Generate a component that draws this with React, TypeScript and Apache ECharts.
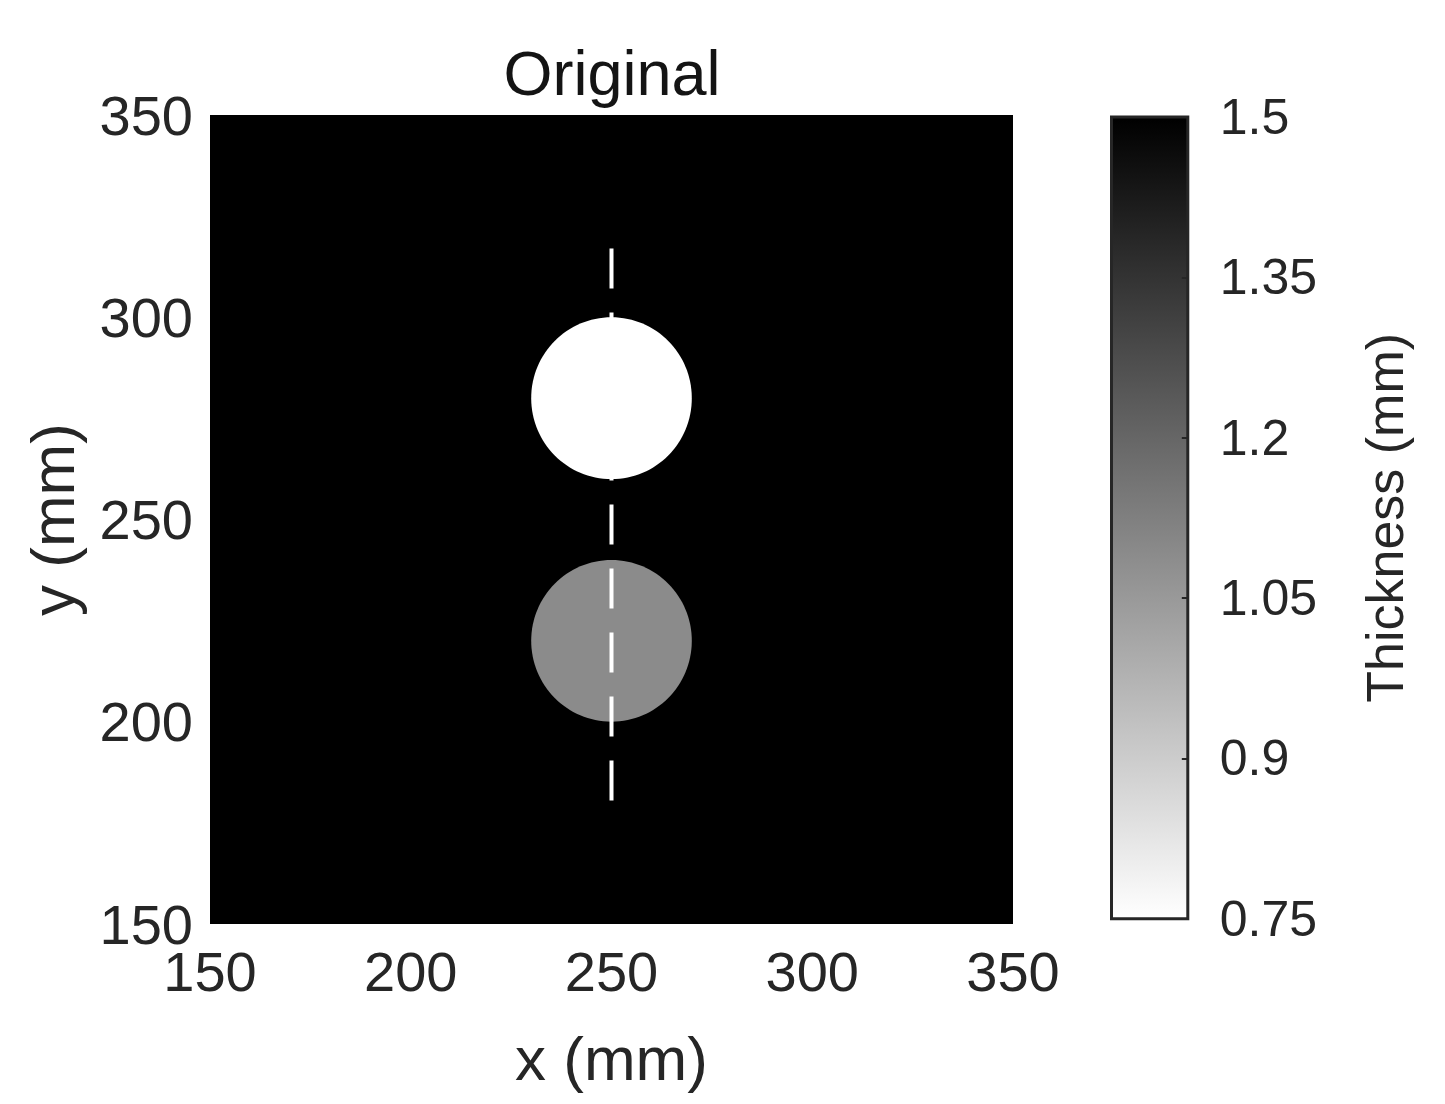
import React, { useEffect, useRef } from "react";
import * as echarts from "echarts";

// ---- data ----
const xRange = [150, 350];
const yRange = [150, 350];
const axisStep = 50;

// regions of the thickness map: kind 0 = plate (half-width), 1 = circular defect (radius)
const regionKind = [0, 1, 1];
const regionX = [250, 250, 250];
const regionY = [250, 280, 220];
const regionSize = [100, 20, 20];
const regionThickness = [1.5, 0.75, 1.09];

// dashed scan line
const scanX = [250, 250];
const scanY = [317, 180.5];

// colour bar
const cbarRange = [0.75, 1.5];
const cbarStep = 0.15;
const cbarColors = ["#ffffff", "#000000"];

const titleText = "Original";
const xName = "x (mm)";
const yName = "y (mm)";
const cbarName = "Thickness (mm)";

const FONT = "'Liberation Sans', Arial, Helvetica, sans-serif";
const TXT = "#262626";

const regionData = regionX.map((x, i) => [x, regionY[i], regionSize[i], regionThickness[i], regionKind[i]]);
const scanData = scanX.map((x, i) => [x, scanY[i]]);

export default function App() {
  const ref = useRef<HTMLDivElement>(null);
  useEffect(() => {
    document.body.style.margin = "0";
    const chart = echarts.init(ref.current!, null, { renderer: "svg" });
    const option: any = {
      animation: false,
      textStyle: { fontFamily: FONT },
      title: {
        text: titleText,
        left: 612,
        top: 73,
        padding: 0,
        textAlign: "center",
        textVerticalAlign: "middle",
        textStyle: { fontSize: 63, fontWeight: "normal", color: "#141414", fontFamily: FONT },
      },
      grid: [
        { left: 210, top: 115, width: 803, height: 809, containLabel: false },
        { left: 1111.5, top: 117, width: 76.3, height: 801.7, containLabel: false },
      ],
      visualMap: {
        type: "continuous",
        show: false,
        min: cbarRange[0],
        max: cbarRange[1],
        dimension: 3,
        seriesIndex: 0,
        inRange: { color: cbarColors },
      },
      xAxis: [
        {
          type: "value",
          gridIndex: 0,
          min: xRange[0],
          max: xRange[1],
          interval: axisStep,
          axisLine: { show: false, onZero: false },
          axisTick: { show: false },
          splitLine: { show: false },
          axisLabel: { fontSize: 56, color: TXT, margin: 19, fontFamily: FONT },
          name: xName,
          nameLocation: "middle",
          nameGap: 103,
          nameTextStyle: { fontSize: 62, color: TXT, fontFamily: FONT },
        },
        {
          type: "value",
          gridIndex: 1,
          min: 0,
          max: 1,
          show: false,
          axisLine: { onZero: false },
        },
      ],
      yAxis: [
        {
          type: "value",
          gridIndex: 0,
          min: yRange[0],
          max: yRange[1],
          interval: axisStep,
          axisLine: { show: false, onZero: false },
          axisTick: { show: false },
          splitLine: { show: false },
          axisLabel: { fontSize: 56, color: TXT, margin: 17, padding: [8, 0, 0, 0], fontFamily: FONT },
          name: yName,
          nameLocation: "middle",
          nameRotate: 90,
          nameGap: 127,
          nameTextStyle: { fontSize: 62, color: TXT, fontFamily: FONT },
        },
        {
          type: "value",
          gridIndex: 1,
          position: "right",
          min: cbarRange[0],
          max: cbarRange[1],
          interval: cbarStep,
          z: 10,
          axisLine: { show: false, onZero: false },
          axisTick: { show: true, inside: true, length: 6, lineStyle: { color: TXT, width: 2 } },
          splitLine: { show: false },
          axisLabel: { fontSize: 50, color: TXT, margin: 32, padding: [16, 0, 0, 0], fontFamily: FONT },
          name: cbarName,
          nameLocation: "middle",
          nameRotate: 90,
          nameGap: 171,
          nameTextStyle: { fontSize: 52, color: TXT, fontFamily: FONT },
        },
      ],
      series: [
        {
          type: "custom",
          xAxisIndex: 0,
          yAxisIndex: 0,
          data: regionData,
          encode: { x: 0, y: 1 },
          renderItem: (params: any, api: any) => {
            const cx = api.value(0);
            const cy = api.value(1);
            const s = api.value(2);
            const kind = api.value(4);
            const color = api.visual("color");
            if (kind === 0) {
              const p0 = api.coord([cx - s, cy + s]);
              const p1 = api.coord([cx + s, cy - s]);
              return {
                type: "rect",
                shape: { x: p0[0], y: p0[1], width: p1[0] - p0[0], height: p1[1] - p0[1] },
                style: { fill: color },
              };
            }
            const c = api.coord([cx, cy]);
            const sz = api.size([s, s]);
            return {
              type: "ellipse",
              shape: { cx: c[0], cy: c[1], rx: sz[0], ry: sz[1] },
              style: { fill: color },
            };
          },
        },
        {
          type: "line",
          xAxisIndex: 0,
          yAxisIndex: 0,
          z: 3,
          data: scanData,
          symbol: "none",
          lineStyle: { color: "#ffffff", width: 4, type: [40, 24] },
        },
        {
          type: "custom",
          xAxisIndex: 1,
          yAxisIndex: 1,
          data: [[0, cbarRange[0], 1, cbarRange[1]]],
          renderItem: (params: any, api: any) => {
            const p0 = api.coord([api.value(0), api.value(3)]);
            const p1 = api.coord([api.value(2), api.value(1)]);
            return {
              type: "rect",
              shape: { x: p0[0], y: p0[1], width: p1[0] - p0[0], height: p1[1] - p0[1] },
              style: {
                fill: new echarts.graphic.LinearGradient(0, 0, 0, 1, [
                  { offset: 0, color: cbarColors[1] },
                  { offset: 1, color: cbarColors[0] },
                ]),
                stroke: TXT,
                lineWidth: 3,
              },
            };
          },
        },
      ],
    };
    chart.setOption(option);
    return () => chart.dispose();
  }, []);
  return <div ref={ref} style={{ width: 1445, height: 1104 }} />;
}
